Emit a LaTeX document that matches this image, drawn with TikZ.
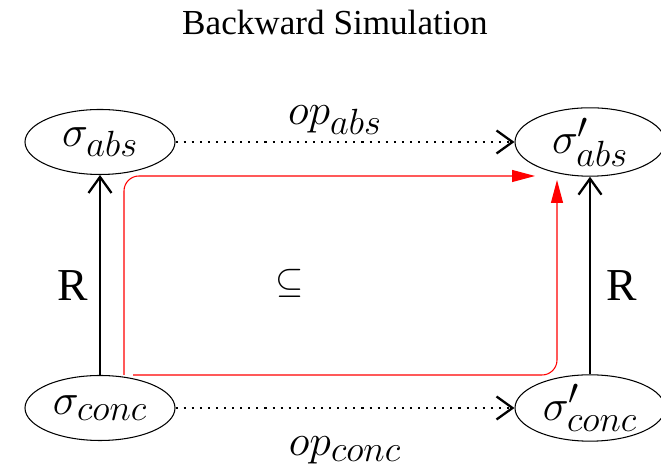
\documentclass[tikz,border=0pt]{standalone}
\usepackage{fontspec}
\setmainfont{Liberation Serif}
\usetikzlibrary{shapes.geometric,arrows.meta}
\begin{document}
\begin{tikzpicture}[>={Straight Barb[length=3.2mm,width=4.6mm,line width=1.3pt]}, line width=0.6pt]
      \tikzset{state/.style={draw, ellipse, minimum width=3cm, minimum height=1.3cm, inner sep=0pt, font=\fontsize{29}{33}\selectfont},
               oplabel/.style={font=\fontsize{30}{34}\selectfont},
               rel/.style={font=\fontsize{26}{30}\selectfont},
               steps/.style={dash pattern=on 1.2pt off 3.4pt, line width=1.3pt},
               simpath/.style={red, rounded corners=0.3cm, -{Triangle[length=4.6mm,width=2.4mm]}}}
      \useasboundingbox (0,0) rectangle (13.22,9.36);
      \node[font=\fontsize{20}{24}\selectfont] (title) at (6.70,8.92) {Backward Simulation};
      \node[state] (abs) at (2.00,6.52) {$\sigma_{abs}$};
      \node[state] (absp) at (11.80,6.52) {$\sigma'_{abs}$};
      \node[state] (conc) at (2.00,1.20) {$\sigma_{conc}$};
      \node[state] (concp) at (11.80,1.20) {$\sigma'_{conc}$};
      \node[oplabel] (opabs) at (6.70,6.96) {$op_{abs}$};
      \node[oplabel] (opconc) at (6.90,0.36) {$op_{conc}$};
      \node[rel] (rleft) at (1.46,3.64) {R};
      \node[rel] (rright) at (12.44,3.64) {R};
      \node[font=\fontsize{20}{24}\selectfont] (incl) at (5.80,3.70) {$\subseteq$};
      \draw[steps,->] (abs) -- (absp);
      \draw[steps,->] (conc) -- (concp);
      \draw[->] (conc) -- (abs);
      \draw[->] (concp) -- (absp);
      \draw[simpath] ([shift={(0.48,0.66)}]conc.center) |- ([shift={(-1.10,-0.68)}]absp.center);
      \draw[simpath] ([shift={(0.66,0.66)}]conc.center) -| ([shift={(-0.66,-0.76)}]absp.center);
    \end{tikzpicture}
\end{document}
